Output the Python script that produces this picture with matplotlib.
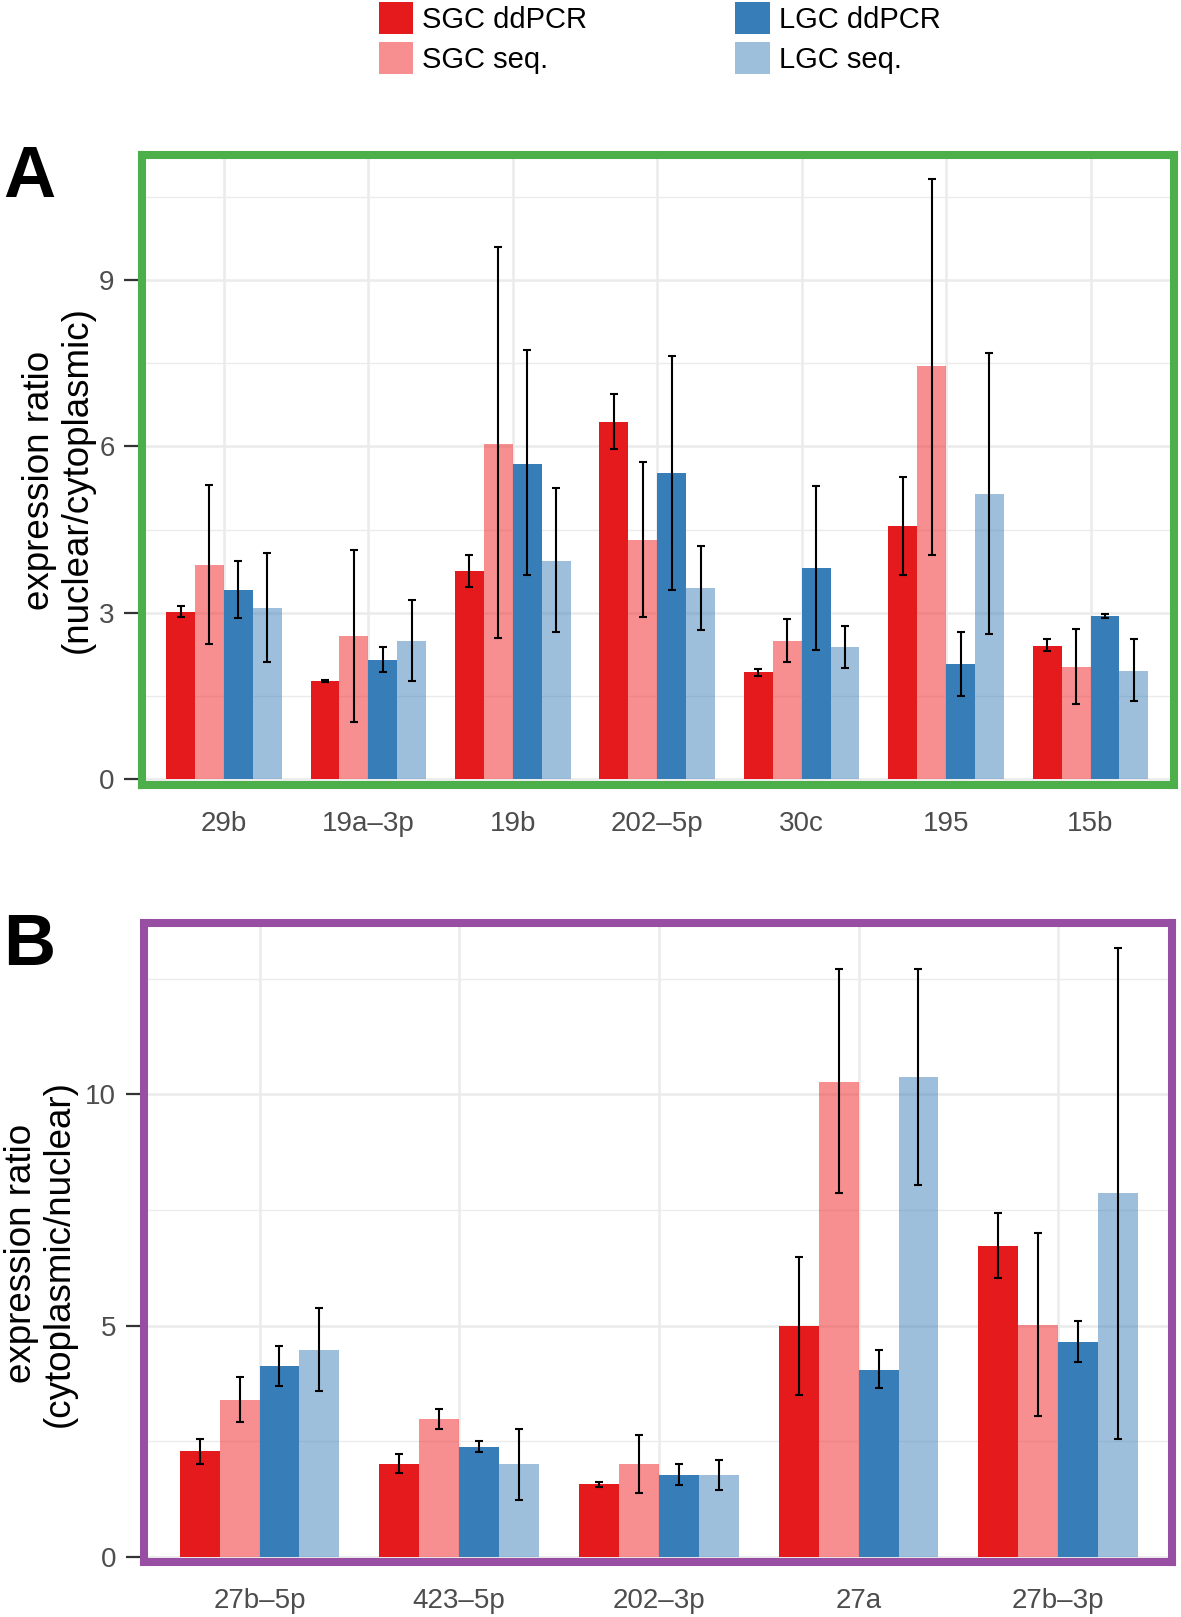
import numpy as np
import matplotlib
matplotlib.use("Agg")
import matplotlib.pyplot as plt
from matplotlib.patches import Patch
from matplotlib.ticker import FixedLocator

plt.rcParams['font.family'] = ['Liberation Sans', 'DejaVu Sans']

# ---------------- data ----------------
series_names = ['SGC ddPCR', 'SGC seq.', 'LGC ddPCR', 'LGC seq.']

catsA = ['29b', '19a–3p', '19b', '202–5p', '30c', '195', '15b']
A_sgc_dd = [3.02, 1.77, 3.76, 6.44, 1.93, 4.56, 2.41]
A_sgc_dd_lo = [2.92, 1.75, 3.47, 5.96, 1.87, 3.69, 2.31]
A_sgc_dd_hi = [3.13, 1.79, 4.05, 6.94, 1.99, 5.45, 2.52]
A_sgc_seq = [3.87, 2.58, 6.05, 4.31, 2.50, 7.44, 2.02]
A_sgc_seq_lo = [2.44, 1.03, 2.54, 2.92, 2.12, 4.05, 1.35]
A_sgc_seq_hi = [5.31, 4.14, 9.59, 5.72, 2.89, 10.82, 2.70]
A_lgc_dd = [3.41, 2.15, 5.69, 5.52, 3.80, 2.08, 2.94]
A_lgc_dd_lo = [2.91, 1.93, 3.69, 3.42, 2.33, 1.51, 2.91]
A_lgc_dd_hi = [3.94, 2.38, 7.73, 7.62, 5.28, 2.66, 2.98]
A_lgc_seq = [3.09, 2.49, 3.94, 3.44, 2.39, 5.14, 1.95]
A_lgc_seq_lo = [2.11, 1.77, 2.65, 2.69, 2.01, 2.61, 1.41]
A_lgc_seq_hi = [4.08, 3.23, 5.25, 4.20, 2.77, 7.68, 2.52]

catsB = ['27b–5p', '423–5p', '202–3p', '27a', '27b–3p']
B_sgc_dd = [2.28, 2.01, 1.57, 4.99, 6.72]
B_sgc_dd_lo = [2.01, 1.82, 1.51, 3.50, 6.03]
B_sgc_dd_hi = [2.55, 2.22, 1.62, 6.49, 7.44]
B_sgc_seq = [3.39, 2.98, 2.01, 10.26, 5.01]
B_sgc_seq_lo = [2.92, 2.76, 1.39, 7.86, 3.04]
B_sgc_seq_hi = [3.88, 3.20, 2.63, 12.71, 7.00]
B_lgc_dd = [4.13, 2.37, 1.78, 4.05, 4.65]
B_lgc_dd_lo = [3.69, 2.27, 1.55, 3.65, 4.22]
B_lgc_dd_hi = [4.57, 2.50, 2.01, 4.48, 5.11]
B_lgc_seq = [4.48, 2.00, 1.77, 10.38, 7.86]
B_lgc_seq_lo = [3.59, 1.24, 1.45, 8.05, 2.55]
B_lgc_seq_hi = [5.38, 2.76, 2.09, 12.71, 13.16]

A_major = [0, 3, 6, 9]
A_minor = [1.5, 4.5, 7.5, 10.5]
B_major = [0, 5, 10]
B_minor = [2.5, 7.5, 12.5]

# ---------------- style ----------------
colors = ['#E41A1C', '#F12125', '#377EB8', '#377EB8']
alphas = [1.0, 0.5, 1.0, 0.49]
W, H = 1181, 1617
fig = plt.figure(figsize=(W / 100, H / 100), dpi=100)


def rect(l, t, r, b):
    return [l / W, 1 - b / H, (r - l) / W, (b - t) / H]


def draw_panel(ax, cats, vals, los, his, major, minor, xlim, ylim, edge, xpad):
    x = np.arange(len(cats))
    offs = [-0.3, -0.1, 0.1, 0.3]
    for i in range(4):
        v = np.array(vals[i])
        ax.bar(x + offs[i], v, width=0.2, color=colors[i], alpha=alphas[i],
               linewidth=0, zorder=2)
    for i in range(4):
        v = np.array(vals[i]); lo = np.array(los[i]); hi = np.array(his[i])
        ax.errorbar(x + offs[i], v, yerr=[v - lo, hi - v], fmt='none',
                    ecolor='black', elinewidth=1.5, capsize=2.7, capthick=1.5,
                    zorder=4)
    ax.set_xlim(*xlim)
    ax.set_ylim(*ylim)
    ax.set_xticks(x)
    ax.set_xticklabels(cats, fontsize=20, color='#4D4D4D')
    ax.yaxis.set_major_locator(FixedLocator(major))
    ax.yaxis.set_minor_locator(FixedLocator(minor))
    ax.set_yticklabels([str(m) for m in major], fontsize=20, color='#4D4D4D')
    ax.tick_params(axis='x', length=0, pad=xpad)
    ax.tick_params(axis='y', which='major', length=13, width=1.6, color='#333333', pad=7)
    ax.tick_params(axis='y', which='minor', length=0)
    ax.set_axisbelow(True)
    ax.grid(True, which='major', axis='both', color='#EBEBEB', linewidth=1.8, zorder=0)
    ax.grid(True, which='minor', axis='y', color='#EBEBEB', linewidth=1.0, zorder=0)
    for s in ax.spines.values():
        s.set_color(edge)
        s.set_linewidth(5.8)
        s.set_zorder(5)


axA = fig.add_axes(rect(142.3, 155, 1173.6, 785.3))
draw_panel(axA, catsA,
           [A_sgc_dd, A_sgc_seq, A_lgc_dd, A_lgc_seq],
           [A_sgc_dd_lo, A_sgc_seq_lo, A_lgc_dd_lo, A_lgc_seq_lo],
           [A_sgc_dd_hi, A_sgc_seq_hi, A_lgc_dd_hi, A_lgc_seq_hi],
           A_major, A_minor, (-0.565, 6.575), (-0.108, 11.25), '#4DAF4A', 18.5)

axB = fig.add_axes(rect(144.1, 922.8, 1172.3, 1562))
draw_panel(axB, catsB,
           [B_sgc_dd, B_sgc_seq, B_lgc_dd, B_lgc_seq],
           [B_sgc_dd_lo, B_sgc_seq_lo, B_lgc_dd_lo, B_lgc_seq_lo],
           [B_sgc_dd_hi, B_sgc_seq_hi, B_lgc_dd_hi, B_lgc_seq_hi],
           B_major, B_minor, (-0.578, 4.571), (-0.11, 13.71), '#984EA3', 18.5)

# axis titles
fig.text(58.5 / W, 1 - 480 / H, 'expression ratio\n(nuclear/cytoplasmic)',
         rotation=90, ha='center', va='center', multialignment='center',
         fontsize=26.5, linespacing=1.1)
fig.text(40.5 / W, 1 - 1253.7 / H, 'expression ratio\n(cytoplasmic/nuclear)',
         rotation=90, ha='center', va='center', multialignment='center',
         fontsize=26.5, linespacing=1.1)

# panel letters
fig.text(3 / W, 1 - 197 / H, 'A', fontsize=52, fontweight='bold', ha='left', va='baseline')
fig.text(3 / W, 1 - 965 / H, 'B', fontsize=52, fontweight='bold', ha='left', va='baseline')

# legend
handles = [Patch(facecolor=colors[i], alpha=alphas[i], edgecolor='none') for i in range(4)]
fig.legend(handles, series_names, loc='upper left',
           bbox_to_anchor=(378.5 / W, 1 - 2 / H), ncol=2, frameon=False,
           fontsize=21, borderpad=0, borderaxespad=0, handlelength=1.17,
           handleheight=1.3, labelspacing=0.28, handletextpad=0.31,
           columnspacing=5.1)

fig.savefig('out.png', dpi=100)
